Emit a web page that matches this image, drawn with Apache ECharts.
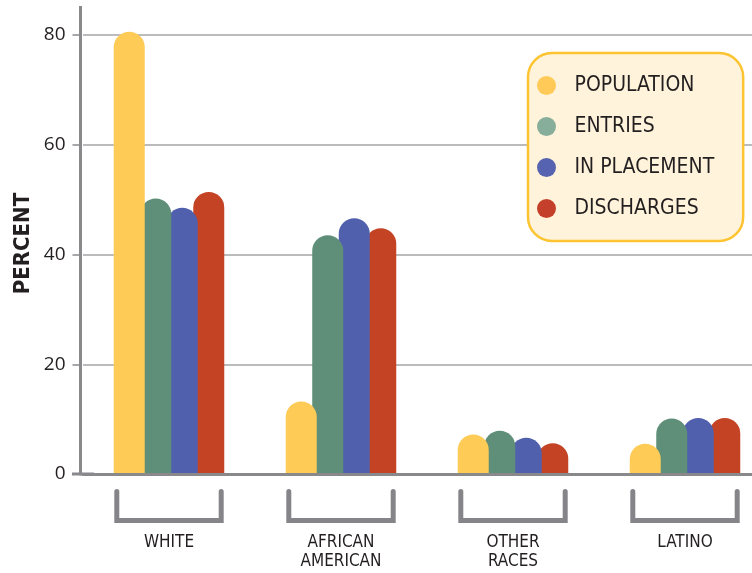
<!DOCTYPE html>
<html>
<head>
<meta charset="utf-8">
<script src="https://cdn.jsdelivr.net/npm/echarts@6/dist/echarts.min.js"></script>
<style>
  html, body { margin: 0; padding: 0; background: #ffffff; }
  #chart { width: 752px; height: 573px; }
</style>
</head>
<body>
<div id="chart"></div>
<script>
// Share of children by race: general population vs. foster care flows
const categories = ['WHITE', 'AFRICAN\nAMERICAN', 'OTHER\nRACES', 'LATINO'];
const seriesNames = ['POPULATION', 'ENTRIES', 'IN PLACEMENT', 'DISCHARGES'];
const population  = [80.6, 13.2, 7.2, 5.5];
const entries     = [50.2, 43.5, 7.9, 10.1];
const inPlacement = [48.5, 46.6, 6.6, 10.2];
const discharges  = [51.4, 44.8, 5.6, 10.2];
const yTicks = [0, 20, 40, 60, 80];

const seriesValues = [population, entries, inPlacement, discharges];
const barColors = ['#FECB57', '#5F8E79', '#5160AD', '#C34324'];
const legendColors = ['#FFCA57', '#87AD9B', '#5563B0', '#C4402A'];

const condensed = '"Liberation Sans Narrow", "DejaVu Sans Condensed", "Arial Narrow", sans-serif';
const axisGray = '#89898c';
const ink = '#231F20';

const chart = echarts.init(document.getElementById('chart'), null, { renderer: 'canvas' });

const barSeries = seriesNames.map((name, i) => ({
  name: name,
  type: 'bar',
  data: seriesValues[i],
  barWidth: 31,
  barGap: '-14.5%',
  clip: false,
  z: 6 - i,
  itemStyle: { color: barColors[i], borderRadius: [15.5, 15.5, 0, 0] },
  emphasis: { disabled: true }
}));

// U-shaped brackets under each category group
const bracketSeries = {
  type: 'custom',
  coordinateSystem: 'cartesian2d',
  silent: true,
  clip: false,
  z: 1,
  data: categories.map((c, i) => [i, 0]),
  renderItem: function (params, api) {
    const p = api.coord([api.value(0), 0]);
    const band = api.size([1, 0])[0];
    const half = band * 0.3035;
    const top = p[1] + 17.5;
    const bottom = p[1] + 46.5;
    return {
      type: 'polyline',
      shape: { points: [[p[0] - half, top], [p[0] - half, bottom], [p[0] + half, bottom], [p[0] + half, top]] },
      style: { stroke: '#858589', lineWidth: 5, fill: null, lineCap: 'round', lineJoin: 'miter' }
    };
  }
};

const option = {
  animation: false,
  backgroundColor: '#ffffff',
  grid: { left: 83, top: 35, width: 688, height: 439, containLabel: false, outerBoundsMode: 'none' },
  legend: {
    left: 528,
    top: 53,
    orient: 'vertical',
    icon: 'circle',
    itemWidth: 46,
    itemHeight: 19,
    itemGap: 20,
    padding: [22, 29, 22, 9],
    backgroundColor: '#FFF3DB',
    borderColor: '#FDC431',
    borderWidth: 2.5,
    borderRadius: 24,
    selectedMode: false,
    textStyle: { fontFamily: condensed, fontSize: 21, color: ink },
    data: seriesNames.map((n, i) => ({ name: n, itemStyle: { color: legendColors[i] } }))
  },
  xAxis: {
    type: 'category',
    data: categories,
    z: 10,
    axisLine: {
      show: true,
      symbol: ['rect', 'none'],
      symbolSize: [3, 22],
      lineStyle: { color: axisGray, width: 2.8 }
    },
    axisTick: { show: false },
    axisLabel: {
      margin: 59,
      fontFamily: condensed,
      fontSize: 17,
      lineHeight: 19,
      color: ink,
      interval: 0
    },
    splitLine: { show: false }
  },
  yAxis: {
    type: 'value',
    min: 0,
    max: 80,
    interval: 20,
    offset: 2.5,
    name: 'PERCENT',
    nameLocation: 'middle',
    nameRotate: 90,
    nameGap: 46,
    nameMoveOverlap: false,
    nameTextStyle: { fontFamily: condensed, fontWeight: 'bold', fontSize: 22, color: ink, padding: [0, 0, 0, 22] },
    axisLine: {
      show: true,
      symbol: ['none', 'rect'],
      symbolSize: [3, 58],
      lineStyle: { color: axisGray, width: 3 }
    },
    axisTick: { show: true, length: 8, lineStyle: { color: axisGray, width: 1.5 } },
    axisLabel: {
      margin: 15,
      fontFamily: '"Open Sans", "Noto Sans", sans-serif',
      fontSize: 19,
      color: ink,
      formatter: function (v) { return yTicks.indexOf(v) >= 0 ? String(v) : ''; }
    },
    splitLine: { show: true, lineStyle: { color: '#a5a5a7', width: 1.5 } }
  },
  series: barSeries.concat([bracketSeries])
};

chart.setOption(option);
</script>
</body>
</html>
